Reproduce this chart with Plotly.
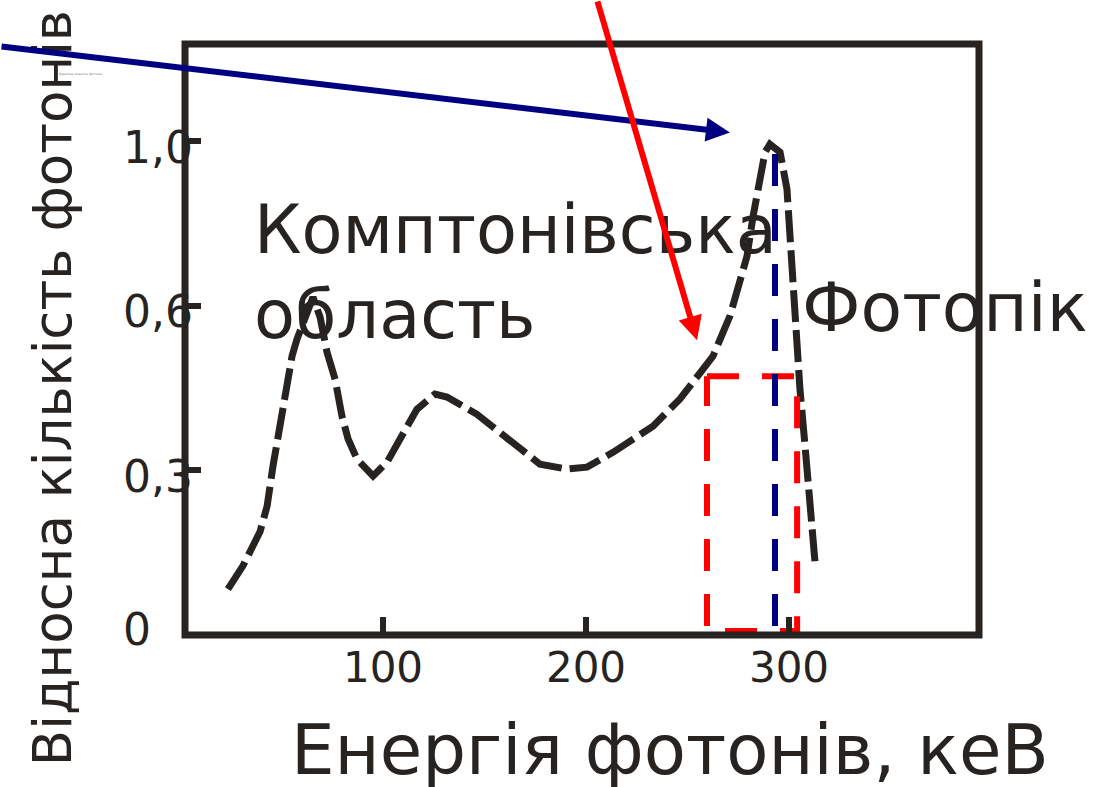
import plotly.graph_objects as go

# ---- data ----
energy_kev = [23.6, 31.0, 39.4, 42.9, 45.8, 49.3, 52.7, 55.2, 57.6, 61.6, 65.5, 69.0,
              72.4, 76.4, 79.8, 82.8, 87.2, 95.1, 102.0, 108.4, 113.3, 116.7, 125.6,
              131.5, 146.3, 164.0, 177.3, 190.6, 200.5, 213.3, 233.0, 246.3, 254.7,
              262.6, 270.9, 275.9, 279.3, 282.3, 285.7, 288.2, 290.6, 295.6, 299.0,
              300.5, 302.0, 304.0, 305.4, 307.9, 309.4, 311.3, 312.8]
relative_count = [0.093, 0.140, 0.209, 0.261, 0.342, 0.423, 0.504, 0.565, 0.599, 0.644,
                  0.684, 0.644, 0.573, 0.518, 0.443, 0.397, 0.356, 0.322, 0.350, 0.397,
                  0.437, 0.457, 0.488, 0.482, 0.447, 0.391, 0.346, 0.336, 0.340, 0.370,
                  0.423, 0.478, 0.524, 0.565, 0.646, 0.715, 0.767, 0.848, 0.929, 0.978,
                  0.994, 0.978, 0.903, 0.802, 0.700, 0.585, 0.498, 0.383, 0.296, 0.215,
                  0.148]

window_x = [259.6, 304.0, 304.0, 259.6, 259.6]
window_y = [0.524, 0.524, 0.008, 0.008, 0.524]

peak_line_x = [293.1, 293.1]
peak_line_y = [0.974, 0.008]

x_tick_vals = [100, 200, 300]
x_tick_text = ["100", "200", "300"]
y_tick_vals = [1 / 3, 2 / 3, 1.0]
y_tick_text = ["0,3", "0,6", "1,0"]
y_zero_val = [0]
y_zero_text = ["0\u00a0\u00a0\u00a0"]

x_title = "Енергія фотонів, кеВ"
y_title = "Відносна кількість фотонів"
compton_line1 = "Комптонівська"
compton_line2 = "область"
photopeak_label = "Фотопік"

# arrow heads (data coordinates)
blue_arrow_head = (270.9, 1.018)
red_arrow_head = (254.7, 0.597)

DARK = "#262320"
FONT = "DejaVu Sans"
Y_RANGE = [0, 1.197]

fig = go.Figure()

fig.add_trace(go.Scatter(
    x=energy_kev, y=relative_count, mode="lines",
    line=dict(color=DARK, width=7, dash="32px,8px"),
    hoverinfo="skip", showlegend=False))

fig.add_trace(go.Scatter(
    x=window_x, y=window_y, mode="lines",
    line=dict(color="#ff0000", width=6, dash="32px,23px"),
    hoverinfo="skip", showlegend=False))

fig.add_trace(go.Scatter(
    x=peak_line_x, y=peak_line_y, mode="lines", yaxis="y2",
    line=dict(color="#000080", width=6, dash="32px,23px"),
    hoverinfo="skip", showlegend=False))

annotations = [
    dict(text=y_title, xref="paper", yref="paper", x=-0.166, y=0.418,
         xanchor="center", yanchor="middle", textangle=-90, showarrow=False,
         font=dict(family=FONT, size=53, color=DARK)),
    dict(text=y_title, xref="paper", yref="paper", x=-0.132, y=0.949,
         xanchor="center", yanchor="middle", showarrow=False,
         font=dict(family=FONT, size=3, color="#777777")),
    dict(text=x_title, xref="paper", yref="paper", x=0.611, y=-0.195,
         xanchor="center", yanchor="middle", showarrow=False,
         font=dict(family=FONT, size=69, color=DARK)),
    dict(text=compton_line1, xref="x", yref="y", x=35.5, y=0.82,
         xanchor="left", yanchor="middle", showarrow=False,
         font=dict(family=FONT, size=67, color=DARK)),
    dict(text=compton_line2, xref="x", yref="y", x=35.5, y=0.648,
         xanchor="left", yanchor="middle", showarrow=False,
         font=dict(family=FONT, size=67, color=DARK)),
    dict(text=photopeak_label, xref="x", yref="y", x=305.5, y=0.664,
         xanchor="left", yanchor="middle", showarrow=False,
         font=dict(family=FONT, size=68, color=DARK)),
    dict(text="", xref="x", yref="y", x=blue_arrow_head[0], y=blue_arrow_head[1],
         ax=-735, ay=-86, showarrow=True, arrowhead=2, arrowsize=0.8,
         arrowwidth=6, arrowcolor="#000080", standoff=0),
    dict(text="", xref="x", yref="y", x=red_arrow_head[0], y=red_arrow_head[1],
         ax=-100, ay=-350, showarrow=True, arrowhead=2, arrowsize=0.8,
         arrowwidth=6, arrowcolor="#ff0000", standoff=0),
]

fig.update_layout(
    width=1103, height=787,
    margin=dict(l=185, r=124, t=44, b=152),
    paper_bgcolor="white", plot_bgcolor="white",
    font=dict(family=FONT, color=DARK),
    xaxis=dict(range=[2.46, 393.6], showgrid=False, zeroline=False, showline=False,
               ticks="inside", ticklen=18, tickwidth=6, tickcolor=DARK,
               tickvals=x_tick_vals, ticktext=x_tick_text,
               tickfont=dict(family=FONT, size=42, color=DARK),
               ticklabelstandoff=4),
    yaxis=dict(range=Y_RANGE, showgrid=False, zeroline=False, showline=False,
               ticks="inside", ticklen=16, tickwidth=6, tickcolor=DARK,
               tickvals=y_tick_vals, ticktext=y_tick_text,
               tickfont=dict(family=FONT, size=44, color=DARK),
               ticklabelstandoff=-9, ticklabelshift=6),
    yaxis2=dict(range=Y_RANGE, overlaying="y", side="left",
                showgrid=False, zeroline=False, showline=False,
                ticks="inside", ticklen=16, tickwidth=6, tickcolor="rgba(0,0,0,0)",
                tickvals=y_zero_val, ticktext=y_zero_text,
                tickfont=dict(family=FONT, size=44, color=DARK),
                ticklabelstandoff=-9, ticklabelshift=-5),
    shapes=[dict(type="rect", xref="paper", yref="paper", x0=0, x1=1, y0=0, y1=1,
                 line=dict(color=DARK, width=7), layer="above")],
    annotations=annotations,
)

fig.write_html("out.html", config={"displayModeBar": False},
               post_script="document.body.style.margin='0px';")
